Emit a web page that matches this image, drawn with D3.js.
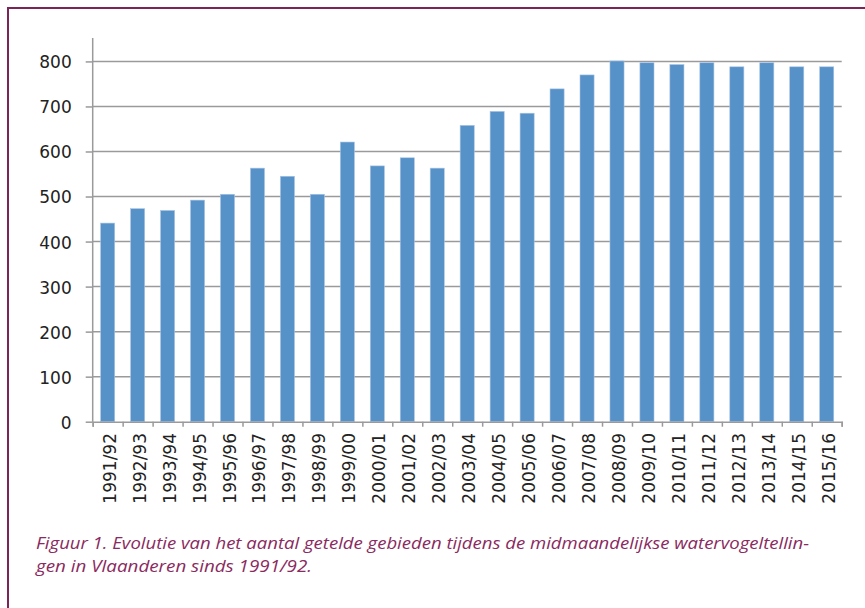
<!DOCTYPE html>
<html lang="nl">
  <head>
    <meta charset="UTF-8" />
    <title>Figuur 1</title>
    <script src="https://cdn.jsdelivr.net/npm/d3@7"></script>
    <style>
      body { margin: 0; background: #fff; }
      svg { display: block; }
    </style>
  </head>
  <body>
    <svg></svg>
    <script>
      const seasons = ["1991/92","1992/93","1993/94","1994/95","1995/96","1996/97","1997/98","1998/99",
        "1999/00","2000/01","2001/02","2002/03","2003/04","2004/05","2005/06","2006/07","2007/08",
        "2008/09","2009/10","2010/11","2011/12","2012/13","2013/14","2014/15","2015/16"];
      const areas = [441, 473, 469, 492, 505, 563, 545, 505, 621, 568, 586, 563, 658, 689, 685, 739,
        770, 801, 797, 793, 797, 788, 797, 788, 788];
      const yTicks = [0, 100, 200, 300, 400, 500, 600, 700, 800];
      const caption = [
        "Figuur 1. Evolutie van het aantal getelde gebieden tijdens de midmaandelijkse watervogeltellin-",
        "gen in Vlaanderen sinds 1991/92."
      ];

      const width = 865, height = 608;
      const plotLeft = 92.7, plotRight = 841.7, plotTop = 38, plotBottom = 421.7;
      const grey = "#9a9a9c";

      const svg = d3.select("svg").attr("width", width).attr("height", height);

      // kader
      svg.append("path")
        .attr("d", `M8,${height} L8,8 L${width},8`)
        .attr("fill", "none")
        .attr("stroke", "#7d2457")
        .attr("stroke-width", 2);

      const y = d3.scaleLinear().domain([0, 852]).range([plotBottom, plotTop]);
      const x = d3.scaleBand().domain(seasons).range([plotLeft, plotRight])
        .paddingInner(0.53).paddingOuter(0.265);
      const xEdges = d3.scaleLinear().domain([0, seasons.length]).range([plotLeft, plotRight]);

      // rasterlijnen
      svg.append("g").selectAll("line").data(yTicks.slice(1)).join("line")
        .attr("x1", plotLeft).attr("x2", plotRight)
        .attr("y1", d => y(d)).attr("y2", d => y(d))
        .attr("stroke", grey).attr("stroke-width", 1.5);

      // staven
      svg.append("g").selectAll("rect").data(areas).join("rect")
        .attr("x", (d, i) => x(seasons[i]))
        .attr("width", x.bandwidth())
        .attr("y", d => y(d))
        .attr("height", d => y(0) - y(d))
        .attr("fill", "#5691c8")
        .attr("stroke", "#a9c4e4")
        .attr("stroke-width", 0.6);

      // y-as
      const yAxis = svg.append("g")
        .attr("transform", `translate(${plotLeft},0)`)
        .call(d3.axisLeft(y).tickValues(yTicks).tickSize(7).tickPadding(14));
      yAxis.select(".domain").attr("d", `M0,${plotTop}V${plotBottom}`);

      // x-as: streepjes op de grenzen
      const xAxis = svg.append("g")
        .attr("transform", `translate(0,${plotBottom})`)
        .call(d3.axisBottom(xEdges).ticks(seasons.length).tickSize(5).tickFormat(""));

      [yAxis, xAxis].forEach(g => {
        g.selectAll(".domain, .tick line").attr("stroke", grey).attr("stroke-width", 1.5);
      });
      yAxis.selectAll(".tick text")
        .attr("font-family", "DejaVu Sans").attr("font-size", 17)
        .attr("fill", "#222").attr("dy", "0.38em");

      svg.append("g").selectAll("text").data(seasons).join("text")
        .attr("transform", d => `translate(${x(d) + x.bandwidth() / 2},433) rotate(-90)`)
        .attr("text-anchor", "end")
        .attr("dy", "0.47em")
        .attr("font-family", "DejaVu Sans").attr("font-size", 17)
        .attr("fill", "#222")
        .text(d => d);

      // onderschrift
      const capWidths = [773, 276];
      svg.append("g").selectAll("text").data(caption).join("text")
        .attr("x", 36)
        .attr("y", (d, i) => 549 + i * 23)
        .attr("font-family", "Open Sans").attr("font-style", "italic").attr("font-size", 16)
        .attr("fill", "#8a2a60")
        .attr("textLength", (d, i) => capWidths[i])
        .attr("lengthAdjust", "spacingAndGlyphs")
        .text(d => d);
    </script>
  </body>
</html>
